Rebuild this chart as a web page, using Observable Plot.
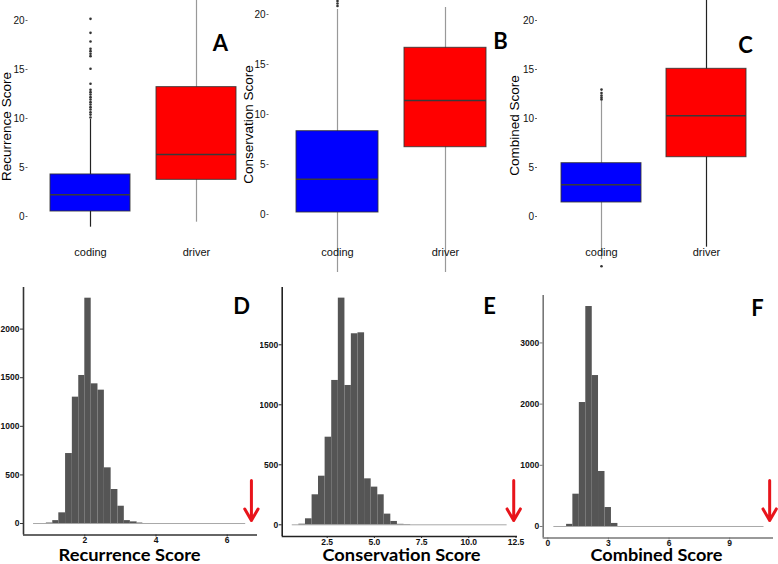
<!DOCTYPE html>
<html><head><meta charset="utf-8">
<script src="https://cdn.jsdelivr.net/npm/d3@7"></script>
<script src="https://cdn.jsdelivr.net/npm/@observablehq/plot@0.6"></script>
<style>
body{margin:0;background:#fff;}
#fig{position:relative;width:778px;height:564px;overflow:hidden;background:#fff;}
#fig > div{position:absolute;}
</style></head><body><div id="fig"></div>
<script>
// ---------- data ----------
const categories = ["coding", "driver"];
const boxTicks = [0, 5, 10, 15, 20];

// A: Recurrence Score (coding, driver)
const recQ1 = [0.51, 3.74];
const recMedian = [2.21, 6.33];
const recQ3 = [4.29, 13.2];
const recLow = [-1.09, -0.58];
const recHigh = [9.9, 22.5];
const recOutliers = [10.1, 10.4, 10.64, 10.92, 11.16, 11.43, 11.67, 11.94, 12.18, 12.45, 12.69, 12.93, 13.54, 15.07, 16.36, 16.6, 16.87, 17.11, 17.86, 18.74, 20.17];

// B: Conservation Score
const conQ1 = [0.2, 6.73];
const conMedian = [3.53, 11.4];
const conQ3 = [8.33, 16.67];
const conLow = [-5.8, -5.8];
const conHigh = [20.5, 20.7];
const conOutliers = [20.85, 21.1, 21.35];

// C: Combined Score
const comQ1 = [1.43, 6.05];
const comMedian = [3.23, 10.27];
const comQ3 = [5.44, 15.07];
const comLow = [-4.4, -3.13];
const comHigh = [11.8, 22.5];
const comOutliers = [11.95, 12.15, 12.35, 12.6, 12.95, -5.07];

// D: null distribution of Recurrence Score
const recEdges = [0.92, 1.10, 1.27, 1.46, 1.65, 1.83, 2.00, 2.18, 2.37, 2.55, 2.74, 2.93, 3.11, 3.28, 3.47, 3.63];
const recCounts = [5, 30, 110, 720, 1300, 1523, 2318, 1437, 1372, 573, 350, 178, 30, 17, 5];
const recSpan = [0.56, 6.52];
const recObserved = 6.68;
const recXTicks = [2, 4, 6];
const recYTicks = [0, 500, 1000, 1500, 2000];

// E: null distribution of Conservation Score
const conEdges = [1.00, 1.35, 1.70, 2.04, 2.39, 2.74, 3.09, 3.44, 3.78, 4.13, 4.48, 4.83, 5.18, 5.52, 5.87, 6.22, 6.57, 6.92];
const conCounts = [5, 50, 250, 405, 730, 1203, 1889, 1161, 1592, 1600, 383, 314, 250, 89, 28, 4, 2];
const conSpan = [0.65, 12.03];
const conObserved = 12.38;
const conXTicks = [2.5, 5, 7.5, 10, 12.5];
const conYTicks = [0, 500, 1000, 1500];

// F: null distribution of Combined Score
const comEdges = [0.93, 1.24, 1.56, 1.88, 2.20, 2.51, 2.83, 3.15, 3.47];
const comCounts = [35, 528, 2026, 3595, 2467, 899, 310, 50];
const comSpan = [0.30, 10.7];
const comObserved = 10.98;
const comXTicks = [0, 3, 6, 9];
const comYTicks = [0, 1000, 2000, 3000];

// ---------- helpers ----------
const fig = document.getElementById("fig");
function place(svg, left, top) {
  const d = document.createElement("div");
  d.style.left = left + "px"; d.style.top = top + "px";
  d.appendChild(svg); fig.appendChild(d);
  return svg;
}
function note(text, x, y, fl, ft, o) {
  return Plot.text([text], Object.assign({frameAnchor: "top-left", dx: x - fl, dy: y - ft, textAnchor: "middle", lineAnchor: "bottom", fill: "#000"}, o));
}
const labelFont = "Lato, 'Open Sans', sans-serif";
const plain = d => String(d);

function boxPanel(p) {
  const rows = categories.map((c, i) => ({cat: c, q1: p.q1[i], med: p.med[i], q3: p.q3[i], lo: p.lo[i], hi: p.hi[i]}));
  const out = p.outliers.map(v => ({cat: "coding", v}));
  return Plot.plot({
    width: p.width, height: 280,
    marginLeft: p.fl, marginRight: 0, marginTop: 0, marginBottom: 35,
    style: {background: "transparent", fontFamily: "'Liberation Sans', Arial, sans-serif"},
    x: {type: "band", domain: categories, range: p.xRange, paddingInner: p.pad, paddingOuter: p.pad / 2, align: 0.5},
    y: {domain: [0, 20], range: p.yRange},
    color: {domain: categories, range: ["#0000ff", "#ff0000"]},
    marks: [
      Plot.ruleX([rows[0]], {x: "cat", y1: "lo", y2: "hi", stroke: p.whisker[0], strokeWidth: 1.2}),
      Plot.ruleX([rows[1]], {x: "cat", y1: "lo", y2: "hi", stroke: p.whisker[1], strokeWidth: 1.2}),
      Plot.barY(rows, {x: "cat", y1: "q1", y2: "q3", fill: "cat", stroke: "#333", strokeOpacity: 0.85, strokeWidth: 1}),
      Plot.tickY(rows, {x: "cat", y: "med", stroke: "#3a3a3a", strokeWidth: 1.5}),
      Plot.dot(out, {x: "cat", y: "v", r: 1.3, fill: "#333", stroke: null}),
      Plot.axisY(boxTicks, {tickSize: 2, tickPadding: 1.5, fontSize: 10, fill: "#111", stroke: "#666", label: null}),
      Plot.axisX({tickSize: 0, tickPadding: 3, fontSize: 11, fill: "#111", label: null}),
      note(p.title, p.tx, p.ty, p.fl, 0, {rotate: -90, lineAnchor: "middle", fontSize: 13.5}),
      note(p.letter, p.lx, p.ly, p.fl, 0, {fontSize: 22, fontWeight: "bold", fontFamily: labelFont})
    ]
  });
}

function histPanel(p) {
  const bins = p.counts.map((n, i) => ({x0: p.edges[i], x1: p.edges[i + 1], y0: 0, n}));
  return Plot.plot({
    width: p.width, height: 284,
    marginLeft: p.ml, marginRight: p.mr, marginTop: p.mt, marginBottom: p.mb,
    style: {background: "transparent", fontFamily: "'Liberation Sans', Arial, sans-serif"},
    x: {domain: p.xDomain},
    y: {domain: p.yDomain},
    marks: [
      Plot.ruleY([{lo: p.span[0], hi: p.span[1]}], {y: 0, x1: "lo", x2: "hi", stroke: "#a8a8a8", strokeWidth: 1}),
      Plot.rectY(bins, {x1: "x0", x2: "x1", y1: "y0", y2: "n", fill: "#555", inset: 0}),
      Plot.ruleX([p.xDomain[0]], {stroke: p.axisColor, strokeWidth: 1.6}),
      Plot.ruleY([p.yDomain[0]], {stroke: p.axisColor, strokeWidth: 1.6}),
      Plot.axisY(p.yTicks, {tickSize: 3, tickPadding: 1, fontSize: 8.5, fontWeight: "bold", fill: "#111", stroke: p.axisColor, label: null, tickFormat: plain}),
      Plot.axisX(p.xTicks, {tickSize: 2, tickPadding: 0, fontSize: 8.5, fontWeight: "bold", fill: "#111", stroke: p.axisColor, label: null, tickFormat: p.fmt}),
      Plot.arrow([{x: p.observed, y1: p.arrowY[0], y2: p.arrowY[1]}], {x: "x", y1: "y1", y2: "y2", stroke: "#e8141b", strokeWidth: 3, headLength: 11, headAngle: 60}),
      note(p.title, p.tx, p.ty, p.ml, p.mt, {fontSize: 17.5, fontWeight: "bold", fontFamily: labelFont}),
      note(p.letter, p.lx, p.ly, p.ml, p.mt, {fontSize: 22, fontWeight: "bold", fontFamily: labelFont})
    ]
  });
}

// ---------- top row ----------
place(boxPanel({q1: recQ1, med: recMedian, q3: recQ3, lo: recLow, hi: recHigh, outliers: recOutliers,
  width: 255, fl: 27.5, xRange: [37, 249], pad: 0.245, yRange: [216, 20], whisker: ["#222", "#999"],
  title: "Recurrence Score", tx: 6, ty: 126, letter: "A", lx: 220, ly: 50}), 0, 0);
place(boxPanel({q1: conQ1, med: conMedian, q3: conQ3, lo: conLow, hi: conHigh, outliers: conOutliers,
  width: 275, fl: 28.5, xRange: [43, 259], pad: 0.2407, yRange: [214, 14], whisker: ["#999", "#999"],
  title: "Conservation Score", tx: 8, ty: 124, letter: "B", lx: 260, ly: 48}), 240, 0);
place(boxPanel({q1: comQ1, med: comMedian, q3: comQ3, lo: comLow, hi: comHigh, outliers: comOutliers,
  width: 278, fl: 37, xRange: [48.25, 259.25], pad: 0.2417, yRange: [216, 20], whisker: ["#999", "#222"],
  title: "Combined Score", tx: 14, ty: 125, letter: "C", lx: 245, ly: 52}), 500, 0);

// ---------- bottom row ----------
const titleWidths = {"Recurrence Score": 142, "Conservation Score": 158, "Combined Score": 132};
const svgs = [];
svgs.push(place(histPanel({edges: recEdges, counts: recCounts, span: recSpan, observed: recObserved, arrowY: [442, 31],
  xTicks: recXTicks, yTicks: recYTicks, fmt: plain,
  width: 260, ml: 23, mr: 3, mt: 7, mb: 29.5, xDomain: [0.278, 6.851], yDomain: [-118, 2428], axisColor: "#333",
  title: "Recurrence Score", tx: 129, ty: 280, letter: "D", lx: 241, ly: 33}), 0, 280));
svgs.push(place(histPanel({edges: conEdges, counts: conCounts, span: conSpan, observed: conObserved, arrowY: [369, 36],
  xTicks: conXTicks, yTicks: conYTicks, fmt: d3.format(".1f"),
  width: 270, ml: 21.7, mr: 13, mt: 7, mb: 28, xDomain: [0.117, 12.58], yDomain: [-97.5, 1977.5], axisColor: "#222",
  title: "Conservation Score", tx: 141, ty: 280, letter: "E", lx: 229, ly: 33}), 260, 280));
svgs.push(place(histPanel({edges: comEdges, counts: comCounts, span: comSpan, observed: comObserved, arrowY: [752, 98],
  xTicks: comXTicks, yTicks: comYTicks, fmt: plain,
  width: 263, ml: 27.7, mr: 5, mt: 15, mb: 26.5, xDomain: [-0.228, 11.17], yDomain: [-188, 3775], axisColor: "#777",
  title: "Combined Score", tx: 141, ty: 280, letter: "F", lx: 242, ly: 35}), 515, 280));

for (const s of svgs) {
  d3.select(s).selectAll("text").filter(function () { return titleWidths[this.textContent] != null; })
    .attr("textLength", function () { return titleWidths[this.textContent]; })
    .attr("lengthAdjust", "spacingAndGlyphs");
}
</script></body></html>
